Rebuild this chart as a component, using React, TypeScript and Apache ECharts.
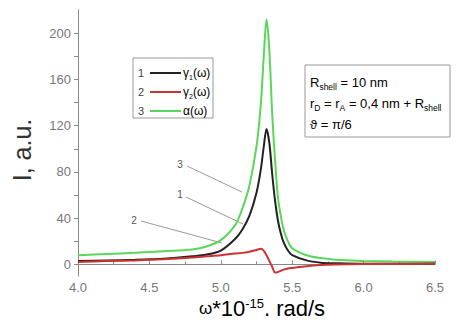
import React, { useEffect, useRef } from "react";
import * as echarts from "echarts";

const omega = [4.0, 4.2, 4.4, 4.6, 4.8, 4.9, 5.0, 5.1, 5.15, 5.2, 5.25, 5.28, 5.3, 5.32, 5.34, 5.36, 5.38, 5.4, 5.42, 5.44, 5.47, 5.5, 5.6, 5.7, 5.8, 6.0, 6.2, 6.5];
const gamma1 = [3, 3.5, 4, 5, 7, 8.5, 12, 22, 30, 42, 62, 82, 101, 117, 105, 78, 55, 38, 27, 19, 12, 8, 3.5, 1.5, 1, 0.5, 0.5, 0.5];
const gamma2 = [2, 3, 3.5, 4.5, 6, 7, 8, 9.5, 10, 11, 12.5, 13.5, 12, 8, 3, -2, -7, -6.5, -5.5, -4.5, -3.5, -3, -1.5, -0.5, 0, 0.3, 0.4, 0.5];
const alpha = [8, 9, 10, 11.5, 13, 15.5, 21, 34, 48, 68, 102, 138, 178, 212, 185, 130, 90, 58, 42, 30, 20, 14, 8, 5.5, 4, 3, 2.5, 2];

const yTicks = [0, 40, 80, 120, 160, 200];
const yMinorTicks = [0, 20, 40, 60, 80, 100, 120, 140, 160, 180, 200];
const legendNums = ["1", "2", "3"];
const legendNames = ["{t|γ}{s|1}{t|(ω)}", "{t|γ}{s|2}{t|(ω)}", "{t|α(ω)}"];
const colors = ["#222222", "#cc3333", "#5ad65a"];

const FONT = "Liberation Sans, Arial, sans-serif";

export default function App() {
  const ref = useRef<HTMLDivElement>(null);
  useEffect(() => {
    if (!ref.current) return;
    const chart = echarts.init(ref.current, null, { renderer: "svg" });
    const mk = (vals: number[]) => omega.map((x, i) => [x, vals[i]]);
    const seriesVals = [gamma1, gamma2, alpha];
    const subRich = {
      t: { fontSize: 12, fontFamily: FONT, color: "#333", verticalAlign: "middle" },
      s: { fontSize: 7, fontFamily: FONT, color: "#333", padding: [8, 0, 0, 0] },
    };
    const legendChildren: any[] = [];
    legendChildren.push({
      type: "rect",
      shape: { x: 133, y: 58, width: 80, height: 60 },
      style: { fill: "#fff", stroke: "#999", lineWidth: 1 },
    });
    legendNums.forEach((n, i) => {
      const y = 73 + i * 19;
      legendChildren.push({
        type: "text",
        x: 141,
        y,
        style: { text: n, fontSize: 11, fontFamily: FONT, fill: "#444", align: "center", verticalAlign: "middle" },
      });
      legendChildren.push({
        type: "line",
        shape: { x1: 150, y1: y, x2: 181, y2: y },
        style: { stroke: colors[i], lineWidth: 2 },
      });
      legendChildren.push({
        type: "text",
        x: 183,
        y,
        style: { text: legendNames[i], rich: subRich, fontFamily: FONT, verticalAlign: "middle" },
      });
    });

    const boxRich = {
      t: { fontSize: 13, fontFamily: FONT, color: "#333" },
      s: { fontSize: 8.5, fontFamily: FONT, color: "#333", padding: [9, 0, 0, 0] },
    };

    chart.setOption({
      animation: false,
      backgroundColor: "#fff",
      grid: { left: 78, right: 26, top: 10, bottom: 48, containLabel: false },
      xAxis: {
        type: "value",
        min: 4,
        max: 6.5,
        interval: 0.5,
        axisLine: { lineStyle: { color: "#888", width: 1 } },
        axisTick: { inside: true, length: 4, lineStyle: { color: "#888" } },
        minorTick: { show: true, splitNumber: 2, length: 3, lineStyle: { color: "#888" } },
        splitLine: { show: false },
        axisLabel: { color: "#777", fontSize: 13, fontFamily: FONT, margin: 5, formatter: (v: number) => v.toFixed(1) },
      },
      yAxis: {
        type: "value",
        min: -10,
        max: 220,
        axisLine: { show: true, lineStyle: { color: "#888", width: 1 } },
        axisTick: { show: true, length: 4, lineStyle: { color: "#888" }, customValues: yMinorTicks },
        splitLine: { show: false },
        axisLabel: { color: "#777", fontSize: 13, fontFamily: FONT, margin: 7, customValues: yTicks },
      },
      series: seriesVals.map((vals, i) => ({
        type: "line",
        data: mk(vals),
        smooth: 0.3,
        showSymbol: false,
        lineStyle: { color: colors[i], width: 2 },
        z: i === 2 ? 1 : 2,
      })),
      graphic: [
        ...legendChildren,
        {
          type: "rect",
          shape: { x: 305, y: 65, width: 145, height: 72 },
          style: { fill: "#fff", stroke: "#999", lineWidth: 1 },
        },
        {
          type: "text",
          x: 310,
          y: 82,
          style: { text: "{t|R}{s|shell}{t| = 10 nm}", rich: boxRich, verticalAlign: "middle" },
        },
        {
          type: "text",
          x: 310,
          y: 103,
          style: { text: "{t|r}{s|D}{t| = r}{s|A}{t| = 0,4 nm + R}{s|shell}", rich: boxRich, verticalAlign: "middle" },
        },
        {
          type: "text",
          x: 310,
          y: 124,
          style: { text: "{t|ϑ = π/6}", rich: boxRich, verticalAlign: "middle" },
        },
        { type: "line", shape: { x1: 187, y1: 166, x2: 242, y2: 192 }, style: { stroke: "#999", lineWidth: 1 } },
        { type: "line", shape: { x1: 186, y1: 197, x2: 243, y2: 224 }, style: { stroke: "#999", lineWidth: 1 } },
        { type: "line", shape: { x1: 141, y1: 221, x2: 222, y2: 243 }, style: { stroke: "#999", lineWidth: 1 } },
        { type: "text", x: 180, y: 164, style: { text: "3", fontSize: 10, fontFamily: FONT, fill: "#555", align: "center", verticalAlign: "middle" } },
        { type: "text", x: 180, y: 194, style: { text: "1", fontSize: 10, fontFamily: FONT, fill: "#555", align: "center", verticalAlign: "middle" } },
        { type: "text", x: 134, y: 220, style: { text: "2", fontSize: 10, fontFamily: FONT, fill: "#555", align: "center", verticalAlign: "middle" } },
        {
          type: "text",
          x: 22,
          y: 150,
          rotation: Math.PI / 2,
          style: { text: "I, a.u.", fontSize: 25, fontFamily: FONT, fill: "#333", align: "center", verticalAlign: "middle" },
        },
        {
          type: "text",
          x: 262,
          y: 296,
          style: {
            text: "{w|ω}{t|*10}{p|-15}{t|, rad/s}",
            align: "center",
            verticalAlign: "top",
            rich: {
              w: { fontSize: 17, fontFamily: FONT, color: "#333", lineHeight: 24 },
              t: { fontSize: 22, fontFamily: FONT, color: "#333", lineHeight: 24 },
              p: { fontSize: 13, fontFamily: FONT, color: "#333", lineHeight: 24, padding: [0, 0, 9, 0] },
            },
          },
        },
      ],
    });
    return () => chart.dispose();
  }, []);
  return <div ref={ref} style={{ width: 461, height: 324, margin: -8 }} />;
}
